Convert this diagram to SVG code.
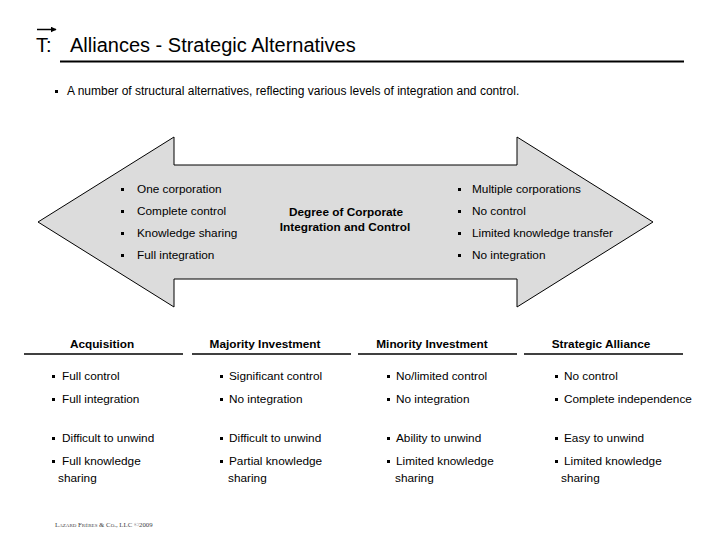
<svg xmlns="http://www.w3.org/2000/svg" width="720" height="540" viewBox="0 0 720 540">
<defs>
<style>
text{font-family:"Liberation Sans",Arial,sans-serif;fill:#000}
.t{font-size:20px}
.s{font-size:11.8px}
.hdr{font-size:11.8px;font-weight:bold;text-anchor:middle}
.ln{stroke:#000;stroke-width:1.5;fill:none}
</style>
<marker id="ah" viewBox="0 0 10 10" refX="9" refY="5" markerWidth="4" markerHeight="4" orient="auto"><path d="M0,0L10,5L0,10z" fill="#000"/></marker>
</defs>
<rect width="720" height="540" fill="#fff"/>
<g id="title">
<line x1="37" y1="29.5" x2="56" y2="29.5" stroke="#000" stroke-width="1.5" marker-end="url(#ah)"/>
<text class="t" x="36" y="52">T:</text>
<text class="t" x="70" y="52">Alliances - Strategic Alternatives</text>
<line x1="60" y1="61.5" x2="684" y2="61.5" stroke="#000" stroke-width="2"/>
</g>
<g id="subtitle">
<rect x="55" y="90" width="3" height="3"/>
<text x="67" y="95" style="font-size:12px">A number of structural alternatives, reflecting various levels of integration and control.</text>
</g>
<g id="double-arrow">
<path d="M38,222 L174,137 L174,165 L517,165 L517,137 L653,222 L517,307 L517,279 L174,279 L174,307 Z" fill="#dcdcdc" stroke="#000" stroke-width="1"/>
<rect x="121" y="188" width="3" height="3"/><text class="s" x="137" y="193">One corporation</text>
<rect x="121" y="210" width="3" height="3"/><text class="s" x="137" y="215">Complete control</text>
<rect x="121" y="232" width="3" height="3"/><text class="s" x="137" y="237">Knowledge sharing</text>
<rect x="121" y="254" width="3" height="3"/><text class="s" x="137" y="259">Full integration</text>
<rect x="458" y="188" width="3" height="3"/><text class="s" x="472" y="193">Multiple corporations</text>
<rect x="458" y="210" width="3" height="3"/><text class="s" x="472" y="215">No control</text>
<rect x="458" y="232" width="3" height="3"/><text class="s" x="472" y="237">Limited knowledge transfer</text>
<rect x="458" y="254" width="3" height="3"/><text class="s" x="472" y="259">No integration</text>
<text class="hdr" x="346" y="216">Degree of Corporate</text>
<text class="hdr" x="345" y="231">Integration and Control</text>
</g>
<g id="col-acquisition">
<text class="hdr" x="102" y="348">Acquisition</text>
<line class="ln" x1="24" y1="354" x2="183" y2="354"/>
<rect x="52" y="375" width="3" height="3"/><text class="s" x="62" y="380">Full control</text>
<rect x="52" y="398" width="3" height="3"/><text class="s" x="62" y="403">Full integration</text>
<rect x="52" y="437" width="3" height="3"/><text class="s" x="62" y="442">Difficult to unwind</text>
<rect x="52" y="460" width="3" height="3"/><text class="s" x="62" y="465">Full knowledge</text>
<text class="s" x="58" y="482">sharing</text>
</g>
<g id="col-majority">
<text class="hdr" x="265" y="348">Majority Investment</text>
<line class="ln" x1="192" y1="354" x2="351" y2="354"/>
<rect x="220" y="375" width="3" height="3"/><text class="s" x="229" y="380">Significant control</text>
<rect x="220" y="398" width="3" height="3"/><text class="s" x="229" y="403">No integration</text>
<rect x="220" y="437" width="3" height="3"/><text class="s" x="229" y="442">Difficult to unwind</text>
<rect x="220" y="460" width="3" height="3"/><text class="s" x="229" y="465">Partial knowledge</text>
<text class="s" x="228" y="482">sharing</text>
</g>
<g id="col-minority">
<text class="hdr" x="432" y="348">Minority Investment</text>
<line class="ln" x1="358" y1="354" x2="517" y2="354"/>
<rect x="387" y="375" width="3" height="3"/><text class="s" x="396" y="380">No/limited control</text>
<rect x="387" y="398" width="3" height="3"/><text class="s" x="396" y="403">No integration</text>
<rect x="387" y="437" width="3" height="3"/><text class="s" x="396" y="442">Ability to unwind</text>
<rect x="387" y="460" width="3" height="3"/><text class="s" x="396" y="465">Limited knowledge</text>
<text class="s" x="395" y="482">sharing</text>
</g>
<g id="col-alliance">
<text class="hdr" x="601" y="348">Strategic Alliance</text>
<line class="ln" x1="524" y1="354" x2="683" y2="354"/>
<rect x="555" y="375" width="3" height="3"/><text class="s" x="564" y="380">No control</text>
<rect x="555" y="398" width="3" height="3"/><text class="s" x="564" y="403">Complete independence</text>
<rect x="555" y="437" width="3" height="3"/><text class="s" x="564" y="442">Easy to unwind</text>
<rect x="555" y="460" width="3" height="3"/><text class="s" x="564" y="465">Limited knowledge</text>
<text class="s" x="561" y="482">sharing</text>
</g>
<g id="footer">
<text x="55" y="527" style="font-family:'Liberation Serif',serif;font-size:6.8px;font-variant:small-caps;fill:#444">Lazard Frères &amp; Co., LLC ©2009</text>
</g>
</svg>
